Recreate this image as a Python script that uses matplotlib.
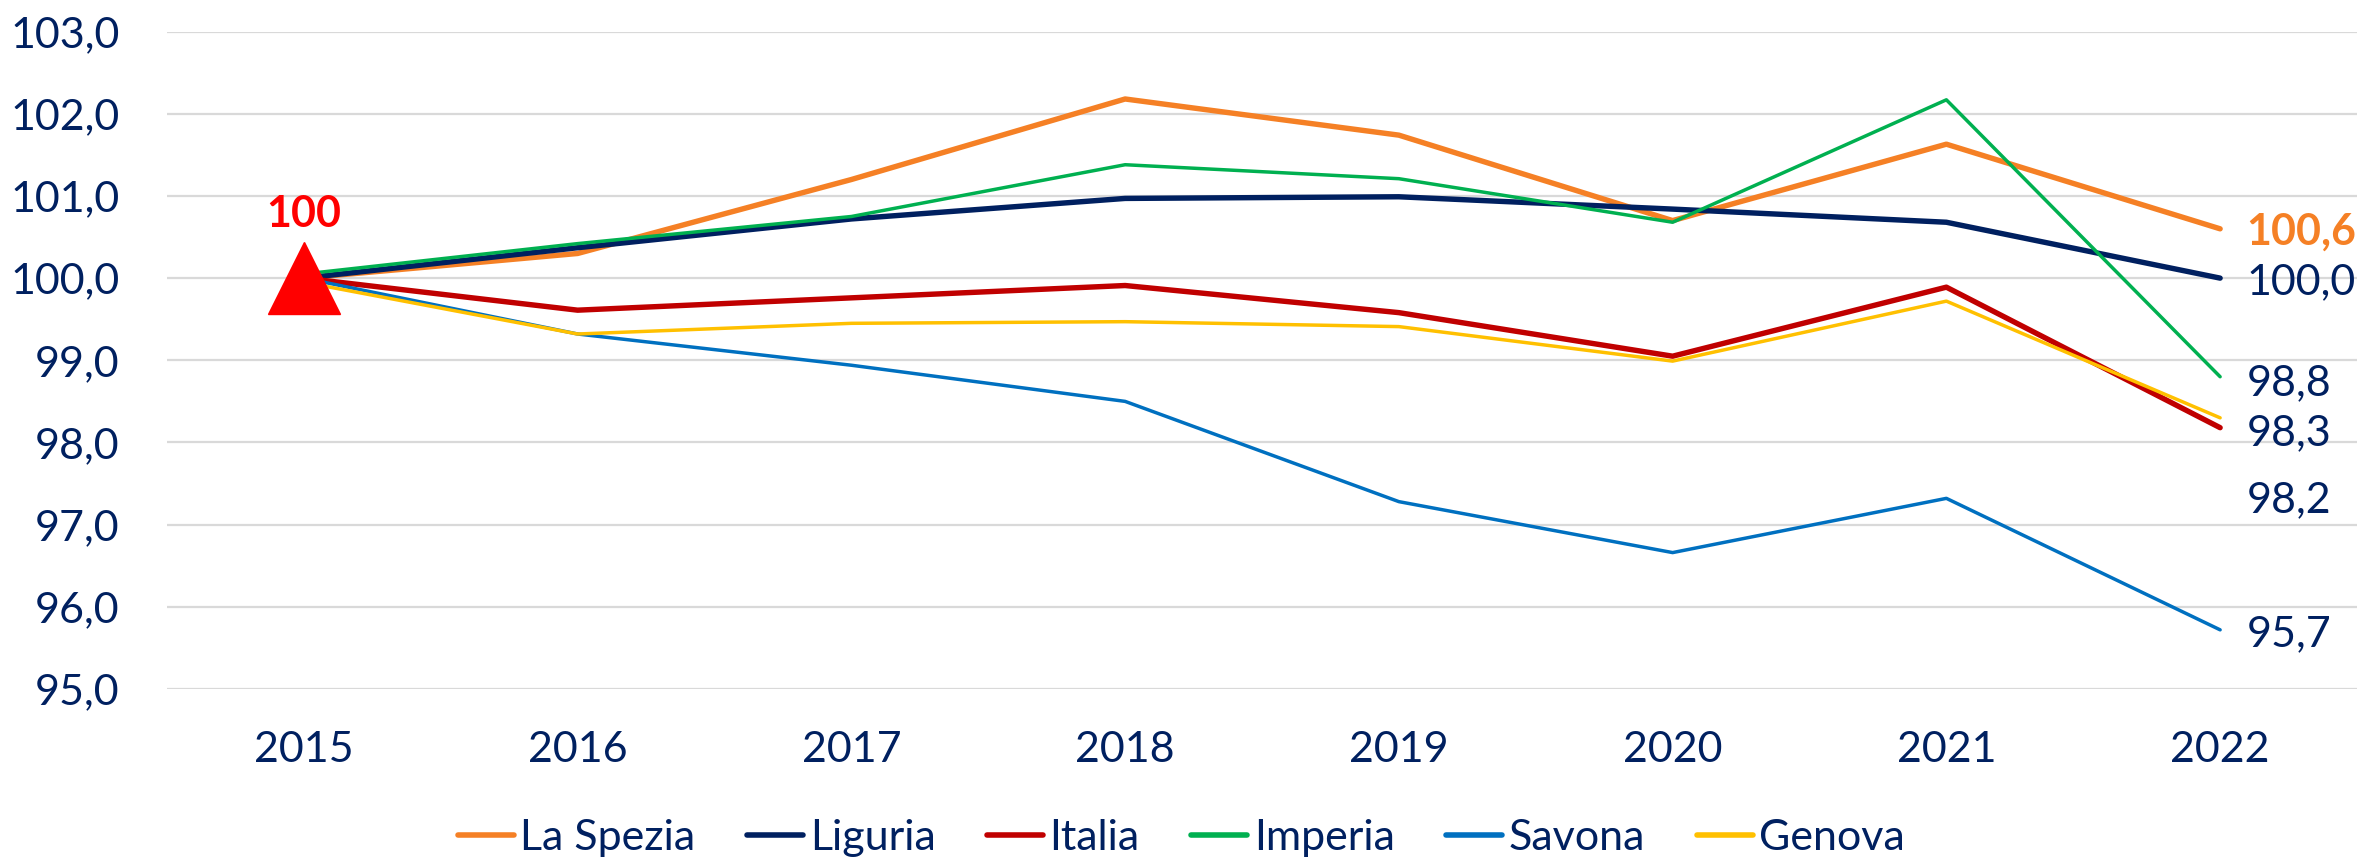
import matplotlib
matplotlib.use("Agg")
import matplotlib.pyplot as plt
from matplotlib.ticker import FuncFormatter

years = ["2015", "2016", "2017", "2018", "2019", "2020", "2021", "2022"]
la_spezia = [100.0, 100.3, 101.2, 102.18, 101.74, 100.7, 101.63, 100.6]
liguria = [100.0, 100.37, 100.72, 100.97, 100.99, 100.84, 100.68, 100.0]
italia = [100.0, 99.61, 99.76, 99.91, 99.58, 99.05, 99.89, 98.18]
imperia = [100.05, 100.42, 100.75, 101.38, 101.21, 100.68, 102.17, 98.8]
savona = [100.0, 99.32, 98.94, 98.5, 97.28, 96.66, 97.32, 95.72]
genova = [99.95, 99.32, 99.45, 99.47, 99.41, 98.99, 99.72, 98.3]
end_labels = ["100,6", "100,0", "98,2", "98,8", "95,7", "98,3"]

NAVY = "#002060"
FS = 31
plt.rcParams["font.family"] = ["Lato", "DejaVu Sans"]

series = [
    ("La Spezia", la_spezia, "#F58025", 3.9),
    ("Liguria", liguria, NAVY, 3.9),
    ("Italia", italia, "#C00000", 3.9),
    ("Imperia", imperia, "#00B050", 2.5),
    ("Savona", savona, "#0070C0", 2.5),
    ("Genova", genova, "#FFC000", 2.5),
]
# vertical nudge (points) of the end labels so they don't collide
label_dy = [-2, -3, -52, -5, -3, -11]

fig = plt.figure(figsize=(23.63, 8.6), dpi=100)
ax = fig.add_axes([167 / 2363, 1 - 689 / 860, 2190 / 2363, (689 - 31.6) / 860])

x = list(range(len(years)))
for (name, vals, col, lw), txt, dy in zip(series, end_labels, label_dy):
    ax.plot(x, vals, color=col, lw=lw, label=name, solid_capstyle="round", zorder=3)
    bold = name == "La Spezia"
    ax.annotate(txt, (x[-1], vals[-1]), xytext=(19, dy), textcoords="offset points",
                ha="left", va="center", fontsize=FS,
                color=col if bold else NAVY,
                fontweight="bold" if bold else "normal")

# base year marker
ax.plot([0], [100], marker="^", markersize=52, color="#FF0000", zorder=5, ls="none")
ax.annotate("100", (0, 100), xytext=(0, 46), textcoords="offset points",
            ha="center", va="center", fontsize=FS, fontweight="bold", color="#FF0000")

ax.set_xlim(-0.5, 7.5)
ax.set_ylim(95, 103)
ax.set_xticks(x)
ax.set_xticklabels(years)
ax.set_yticks(range(95, 104))
ax.yaxis.set_major_formatter(FuncFormatter(lambda v, p: f"{v:.1f}".replace(".", ",")))
ax.tick_params(axis="both", length=0, labelsize=FS, labelcolor=NAVY)
ax.tick_params(axis="x", pad=30)
ax.tick_params(axis="y", pad=34)
for s in ax.spines.values():
    s.set_visible(False)
ax.grid(axis="y", color="#D9D9D9", lw=1.6)
ax.set_axisbelow(True)

leg = fig.legend(loc="center", bbox_to_anchor=(0.5, 1 - 838 / 860), ncol=6, frameon=False,
                 fontsize=FS, handlelength=1.3, handletextpad=0.15, columnspacing=1.2)
for t in leg.get_texts():
    t.set_color(NAVY)
for h in leg.get_lines():
    h.set_linewidth(4)

fig.savefig("out.png", dpi=100)
